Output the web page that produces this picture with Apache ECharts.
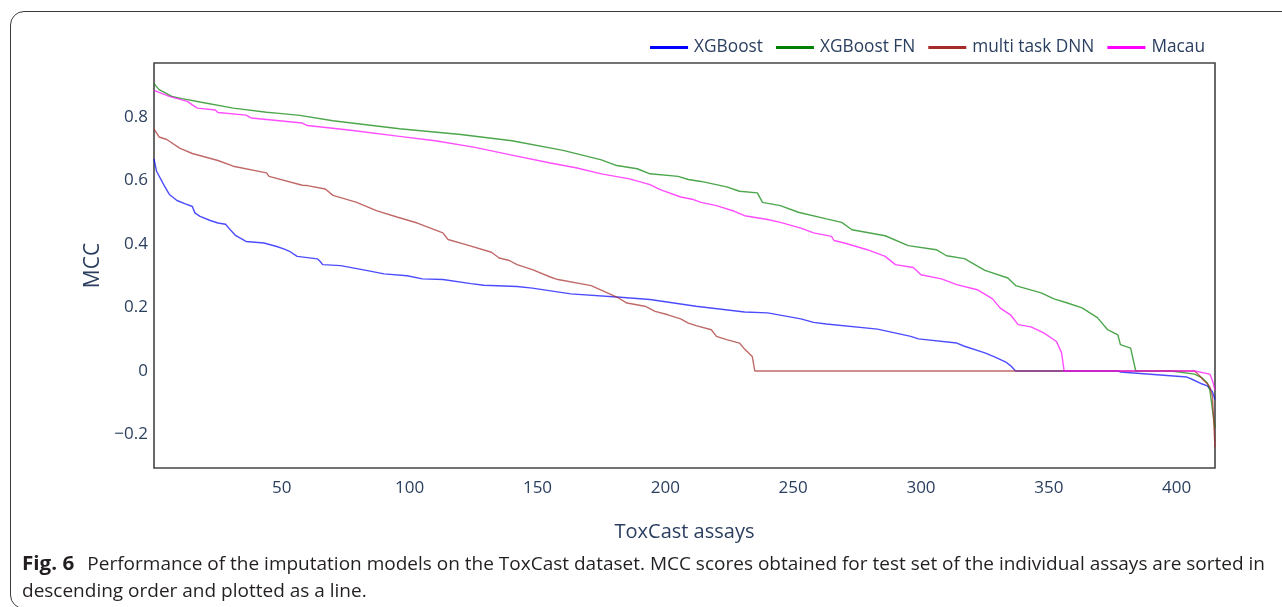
<!DOCTYPE html>
<html>
<head>
<meta charset="utf-8">
<script src="https://cdn.jsdelivr.net/npm/echarts@6/dist/echarts.min.js"></script>
<style>
  html, body { margin: 0; padding: 0; background: #fff; overflow: hidden; }
  #frame {
    position: absolute; left: 10px; top: 11px; width: 1300px; height: 598px;
    border: 1.3px solid #3a3a3a; border-radius: 14px; box-sizing: border-box;
    pointer-events: none;
  }
  #chart { position: absolute; left: 0; top: 0; width: 1282px; height: 607px; }
  #caption {
    position: absolute; left: 22px; top: 550px;
    font-family: "Open Sans", "Noto Sans", sans-serif; font-size: 17.5px;
    color: #231f20; line-height: 27px; white-space: nowrap;
  }
  #caption .line { display: block; transform-origin: 0 50%; }
  #caption b { font-weight: 700; font-size: 19px; margin-right: 12px; }
</style>
</head>
<body>
<div id="chart"></div>
<div id="frame"></div>
<div id="caption">
  <span class="line" id="cap1"><b>Fig. 6</b>Performance of the imputation models on the ToxCast dataset. MCC scores obtained for test set of the individual assays are sorted in</span>
  <span class="line" id="cap2">descending order and plotted as a line.</span>
</div>
<script>
// Sorted MCC score per assay, as [assay index, MCC] pairs.
const seriesNames = ['XGBoost', 'XGBoost FN', 'multi task DNN', 'Macau'];

const xgboost = [
  [0,0.668],[1,0.629],[4,0.584],[6,0.556],[9,0.537],[12,0.527],[15,0.518],[16,0.498],[18,0.487],
  [22,0.474],[25,0.466],[28,0.462],[30,0.443],[32,0.426],[36,0.408],[43,0.403],[48,0.392],
  [51,0.384],[53,0.377],[56,0.361],[64,0.353],[65,0.345],[66,0.335],[73,0.332],[83,0.317],
  [90,0.306],[99,0.300],[105,0.290],[113,0.288],[124,0.275],[129,0.270],[142,0.266],[148,0.261],
  [163,0.243],[181,0.233],[194,0.225],[212,0.204],[231,0.186],[240,0.183],[253,0.164],
  [258,0.153],[263,0.148],[283,0.132],[296,0.109],[299,0.101],[314,0.088],[317,0.078],
  [325,0.057],[329,0.044],[333,0.029],[335,0.017],[337,0],[377,0],[378,-0.003],[404,-0.019],
  [406,-0.026],[410,-0.041],[412,-0.047],[414,-0.065],[415,-0.09]
];

const xgboostFN = [
  [0,0.905],[2,0.886],[7,0.865],[11,0.858],[18,0.847],[31,0.828],[44,0.815],[48,0.812],
  [57,0.805],[70,0.788],[96,0.763],[120,0.745],[140,0.725],[160,0.695],[175,0.665],[181,0.647],
  [189,0.637],[194,0.621],[205,0.613],[209,0.603],[214,0.597],[224,0.580],[229,0.566],
  [236,0.561],[238,0.531],[245,0.521],[252,0.500],[263,0.479],[269,0.468],[273,0.445],
  [286,0.426],[295,0.395],[306,0.382],[310,0.363],[317,0.354],[325,0.317],[334,0.293],
  [337,0.269],[347,0.246],[352,0.227],[357,0.215],[363,0.199],[369,0.168],[373,0.130],
  [377,0.114],[378,0.083],[382,0.072],[384,0],[398,0],[407,-0.010],[410,-0.022],[412,-0.038],
  [413,-0.060],[414,-0.122],[415,-0.180]
];

const multiTaskDNN = [
  [0,0.762],[2,0.737],[5,0.729],[10,0.702],[15,0.685],[25,0.663],[31,0.645],[44,0.624],
  [45,0.613],[58,0.585],[60,0.584],[67,0.573],[70,0.553],[79,0.532],[87,0.505],[95,0.485],
  [103,0.466],[113,0.435],[115,0.414],[122,0.398],[132,0.374],[135,0.356],[139,0.348],
  [142,0.335],[148,0.319],[155,0.296],[158,0.288],[171,0.269],[176,0.251],[181,0.233],
  [185,0.214],[192,0.204],[196,0.188],[201,0.177],[206,0.164],[209,0.151],[212,0.143],
  [218,0.130],[220,0.109],[224,0.099],[229,0.088],[231,0.069],[234,0.046],[235,0],
  [407,0],[409,-0.015],[410,-0.025],[412,-0.040],[413,-0.050],[414,-0.080],[415,-0.240]
];

const macau = [
  [0,0.884],[6,0.865],[13,0.849],[15,0.838],[17,0.828],[24,0.822],[25,0.814],[36,0.806],
  [38,0.797],[58,0.781],[60,0.773],[77,0.758],[96,0.739],[110,0.725],[125,0.705],[140,0.680],
  [155,0.655],[165,0.640],[175,0.621],[186,0.605],[194,0.587],[198,0.571],[206,0.548],
  [211,0.540],[214,0.531],[220,0.521],[227,0.503],[231,0.489],[240,0.477],[245,0.468],
  [253,0.450],[258,0.435],[265,0.424],[266,0.411],[270,0.403],[279,0.382],[286,0.361],
  [290,0.335],[297,0.326],[300,0.303],[308,0.290],[314,0.272],[322,0.256],[328,0.227],
  [331,0.198],[335,0.177],[338,0.146],[343,0.139],[348,0.120],[353,0.093],[355,0.057],
  [356,0],[407,0],[413,-0.010],[414,-0.030],[415,-0.060]
];

const xTicks = [50, 100, 150, 200, 250, 300, 350, 400];
const yTicks = [-0.2, 0, 0.2, 0.4, 0.6, 0.8];

const lineColors = ['#0000ff', '#008000', '#a52a2a', '#ff00ff'];
const allData = [xgboost, xgboostFN, multiTaskDNN, macau];

const font = '"Open Sans", "Noto Sans", sans-serif';
const tickColor = '#2a3f5f';

const chart = echarts.init(document.getElementById('chart'), null, { renderer: 'canvas' });

chart.setOption({
  animation: false,
  backgroundColor: 'transparent',
  textStyle: { fontFamily: font },
  legend: {
    right: 72,
    top: 34,
    icon: 'rect',
    itemWidth: 38,
    itemHeight: 3,
    itemGap: 13,
    textStyle: { fontFamily: font, fontSize: 17.3, color: tickColor, padding: [0, 0, 0, 1] },
    data: seriesNames.map((n, i) => ({ name: n, itemStyle: { color: lineColors[i], opacity: 1 } }))
  },
  grid: {
    left: 154, top: 63, right: 67, bottom: 139,
    show: true, borderColor: '#444', borderWidth: 1.6,
    containLabel: false, outerBoundsMode: 'none'
  },
  xAxis: {
    type: 'value', min: 0, max: 415,
    axisLine: { show: false }, axisTick: { show: false }, splitLine: { show: false },
    axisLabel: {
      customValues: xTicks, fontSize: 17, color: tickColor, fontFamily: font, margin: 12
    },
    name: 'ToxCast assays', nameLocation: 'middle', nameGap: 54,
    nameTextStyle: { fontSize: 20, color: tickColor, fontFamily: font }
  },
  yAxis: {
    type: 'value', min: -0.3055, max: 0.970,
    axisLine: { show: false }, axisTick: { show: false }, splitLine: { show: false },
    axisLabel: {
      customValues: yTicks, fontSize: 17, color: tickColor, fontFamily: font, margin: 6,
      formatter: v => (v < 0 ? '\u2212' + String(Math.abs(v)) : String(v))
    },
    name: 'MCC', nameLocation: 'middle', nameGap: 37,
    nameTextStyle: { fontSize: 21, color: tickColor, fontFamily: font }
  },
  series: allData.map((d, i) => ({
    name: seriesNames[i],
    type: 'line',
    data: d,
    showSymbol: false,
    symbol: 'none',
    color: lineColors[i],
    lineStyle: { width: 1.4, color: lineColors[i], opacity: 0.7 },
    emphasis: { disabled: true },
    z: 2 + i
  }))
});

// Fit the caption's first line to the figure width.
function fitCaption() {
  const l1 = document.getElementById('cap1');
  const l2 = document.getElementById('cap2');
  const w = l1.getBoundingClientRect().width;
  const s = 1243 / w;
  l1.style.transform = 'scaleX(' + s + ')';
  l2.style.transform = 'scaleX(' + s + ')';
}
fitCaption();
</script>
</body>
</html>
